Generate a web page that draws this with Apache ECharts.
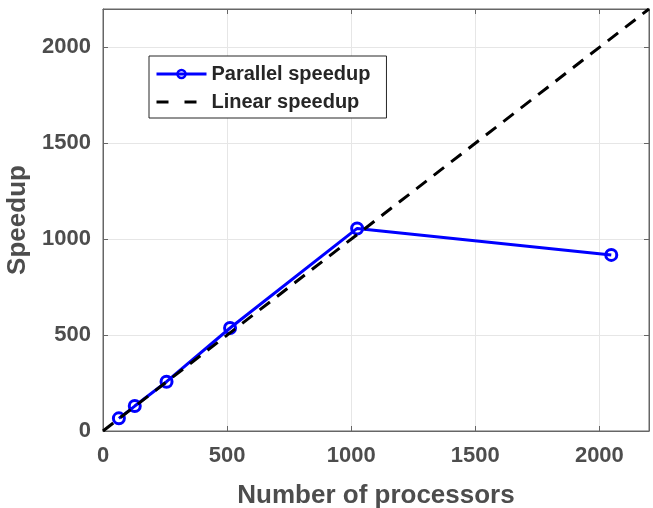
<!DOCTYPE html>
<html>
<head>
<meta charset="utf-8">
<script src="https://cdn.jsdelivr.net/npm/echarts@6/dist/echarts.min.js"></script>
<style>
  html, body { margin: 0; padding: 0; background: #ffffff; }
  #chart { width: 653px; height: 508px; }
</style>
</head>
<body>
<div id="chart"></div>
<script>
// Measured speedup versus processor count
const processors = [64, 128, 256, 512, 1024, 2048];
const parallelSpeedup = [66, 130, 257, 537, 1056, 918];
// Ideal (linear) speedup reference line
const linearProcessors = [0, 2200];
const linearSpeedup = [0, 2200];
// Labelled ticks on both axes
const tickValues = [0, 500, 1000, 1500, 2000];

const FONT = '"Liberation Sans", Arial, Helvetica, sans-serif';
const TEXT = '#4d4d4d';
const AXIS = '#666666';

const tickFmt = v => (tickValues.indexOf(v) >= 0 ? String(v) : '');

function valueAxis(extra) {
  return Object.assign({
    type: 'value',
    min: 0,
    max: 2200,
    interval: 500,
    axisLine: { show: true, onZero: false, lineStyle: { color: AXIS, width: 1 } },
    axisTick: { show: true, inside: true, length: 5, lineStyle: { color: AXIS, width: 1 } },
    splitLine: { show: false },
    axisLabel: { show: false }
  }, extra);
}

const chart = echarts.init(document.getElementById('chart'), null, { renderer: 'canvas' });

chart.setOption({
  animation: false,
  backgroundColor: '#ffffff',
  textStyle: { fontFamily: FONT },
  grid: {
    left: 103, right: 4, top: 9, bottom: 77, containLabel: false,
    outerBoundsMode: 'none',
    show: true, borderColor: AXIS, borderWidth: 1, backgroundColor: 'rgba(0,0,0,0)'
  },
  legend: {
    orient: 'vertical',
    left: 149,
    top: 56,
    padding: [8, 16, 6, 6],
    itemGap: 8,
    itemWidth: 50,
    itemHeight: 10,
    backgroundColor: '#ffffff',
    borderColor: '#262626',
    borderWidth: 1,
    borderRadius: 0,
    textStyle: { fontFamily: FONT, fontSize: 20, fontWeight: 'bold', color: '#262626' },
    data: [
      {
        name: 'Parallel speedup',
        lineStyle: { width: 3, color: '#0000ff' },
        itemStyle: { color: 'rgba(255,255,255,0)', borderColor: '#0000ff', borderWidth: 2.5 }
      },
      {
        name: 'Linear speedup',
        lineStyle: { width: 3, color: '#000000', type: [12, 16] },
        itemStyle: { color: 'rgba(0,0,0,0)', borderColor: 'rgba(0,0,0,0)', borderWidth: 0 }
      }
    ]
  },
  xAxis: [
    valueAxis({
      position: 'bottom',
      name: 'Number of processors',
      nameLocation: 'middle',
      nameGap: 52,
      nameTextStyle: { fontFamily: FONT, fontSize: 26, fontWeight: 'bold', color: TEXT },
      splitLine: { show: true, lineStyle: { color: '#e6e6e6', width: 1 } },
      axisLabel: { show: true, margin: 14, fontFamily: FONT, fontSize: 22, fontWeight: 'bold', color: TEXT, formatter: tickFmt }
    }),
    valueAxis({ position: 'top' })
  ],
  yAxis: [
    valueAxis({
      position: 'left',
      name: 'Speedup',
      nameLocation: 'middle',
      nameGap: 66,
      nameRotate: 90,
      nameTextStyle: { fontFamily: FONT, fontSize: 26, fontWeight: 'bold', color: TEXT },
      splitLine: { show: true, lineStyle: { color: '#e6e6e6', width: 1 } },
      axisLabel: { show: true, margin: 12, fontFamily: FONT, fontSize: 22, fontWeight: 'bold', color: TEXT, formatter: tickFmt }
    }),
    valueAxis({ position: 'right' })
  ],
  series: [
    {
      name: 'Parallel speedup',
      type: 'line',
      xAxisIndex: 0,
      yAxisIndex: 0,
      data: processors.map((p, i) => [p, parallelSpeedup[i]]),
      symbol: 'circle',
      symbolSize: 11,
      showAllSymbol: true,
      lineStyle: { color: '#0000ff', width: 3 },
      itemStyle: { color: 'rgba(255,255,255,0)', borderColor: '#0000ff', borderWidth: 3 },
      z: 3
    },
    {
      name: 'Linear speedup',
      type: 'line',
      xAxisIndex: 0,
      yAxisIndex: 0,
      data: linearProcessors.map((p, i) => [p, linearSpeedup[i]]),
      symbol: 'none',
      lineStyle: { color: '#000000', width: 3, type: [13, 9] },
      itemStyle: { color: 'rgba(0,0,0,0)' },
      z: 4
    }
  ]
});
</script>
</body>
</html>
